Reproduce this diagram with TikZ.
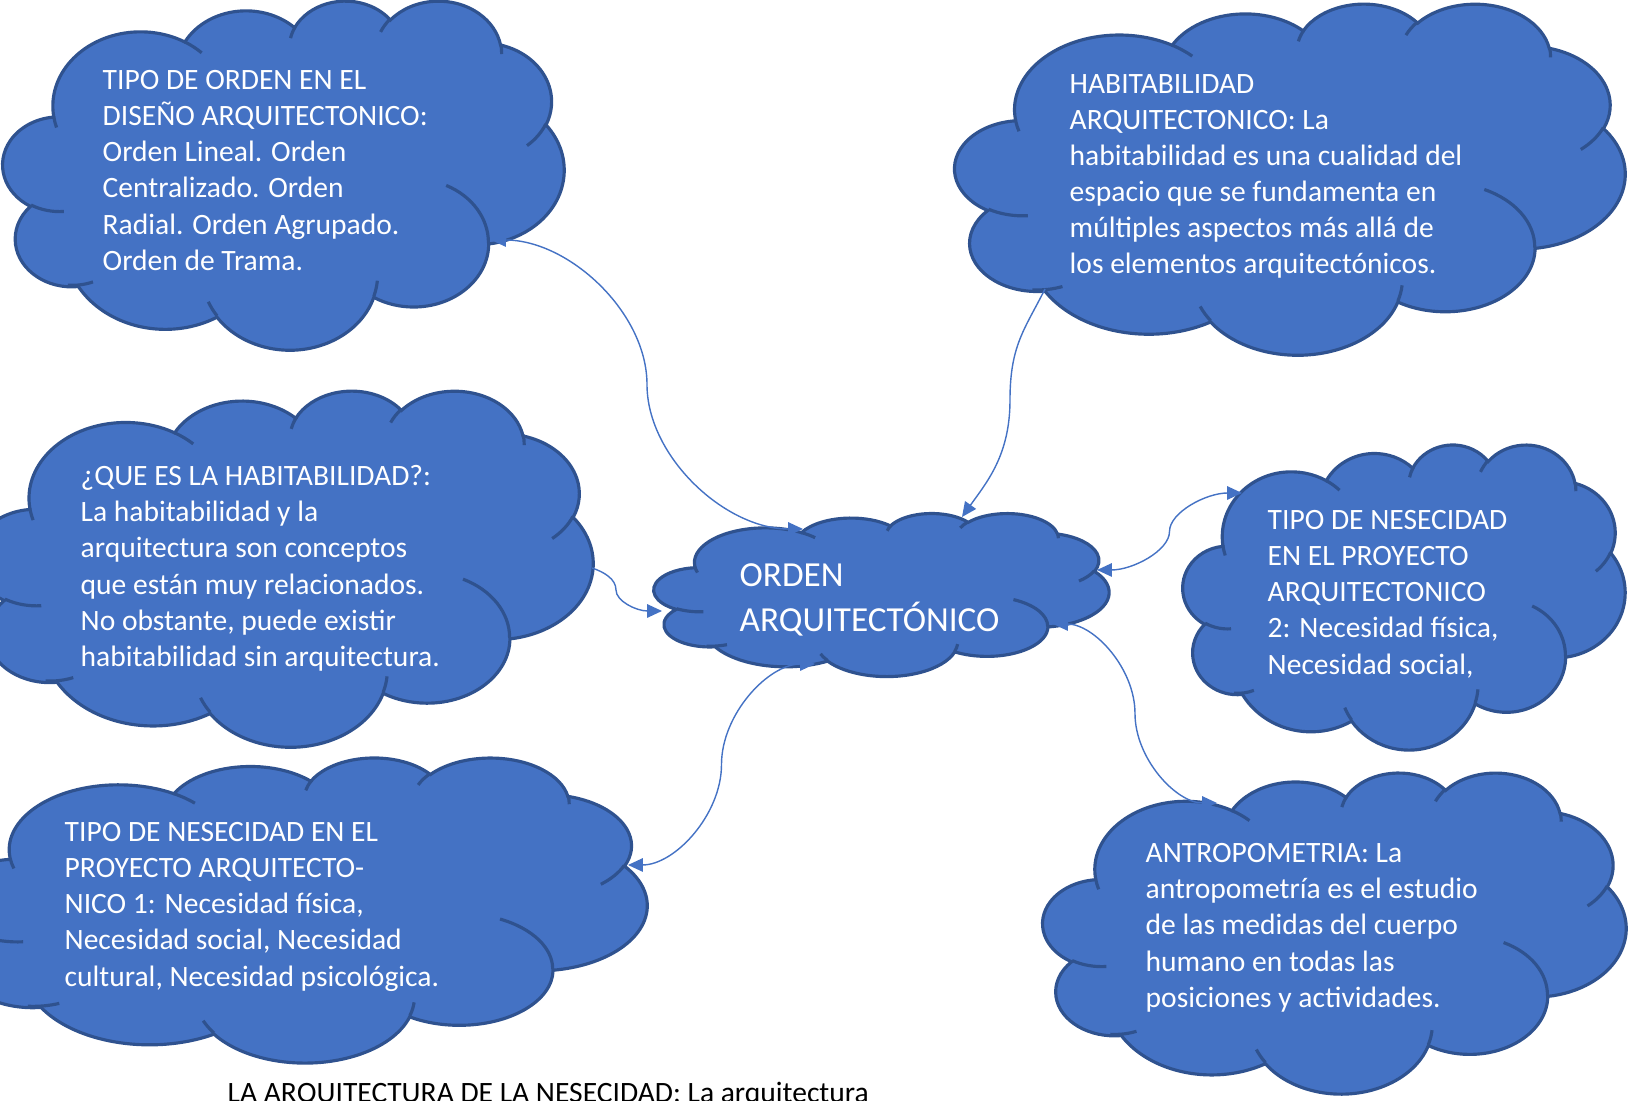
\documentclass[tikz,border=0pt]{standalone}
\usepackage{fontspec}
\setmainfont{Carlito}
\usepackage{xcolor}
\usepackage{tikz}
\usetikzlibrary{
  arrows.meta,
  calc
}
\definecolor{nubefill}{HTML}{4472C4}
\definecolor{nubeborde}{HTML}{2F528F}
\newcommand{\carc}[4]{arc[x radius=#1, y radius=#2,
  start angle={atan2(#1*sin(#3),#2*cos(#3))},
  delta angle={mod(atan2(#1*sin(#3+#4),#2*cos(#3+#4))-atan2(#1*sin(#3),#2*cos(#3))+720,360)}]}
\newcommand{\nube}[4]{%
  \begin{scope}[shift={(#1,#2)}, xscale=#3/43.2, yscale=#4/43.2]
    \path[nube] (3.9,14.37) \carc{6.753}{9.19}{-190.4875}{123.7805}
      \carc{5.333}{7.267}{-144.1024}{89.9452}
      \carc{4.365}{5.945}{-145.8079}{99.723}
      \carc{4.857}{6.595}{-130.9861}{117.2417}
      \carc{5.333}{7.273}{-78.7089}{109.0269}
      \carc{6.775}{9.22}{-46.2673}{130.269}
      \carc{5.785}{7.867}{0.625}{114.0333}
      \carc{6.752}{9.215}{22.4516}{115.1726}
      \carc{7.72}{10.543}{66.2426}{75.711}
      \carc{4.36}{5.918}{-274.9421}{146.7356}
      \carc{4.345}{5.945}{-246.8285}{152.5189} -- cycle;
    \path[pliegue] (4.693,26.177) \carc{4.345}{5.945}{86.742}{26.4295}
      (6.928,34.899) \carc{4.36}{5.918}{73.6077}{19.5035}
      (16.478,39.09) \carc{6.752}{9.215}{137.6242}{14.0811}
      (28.827,34.751) \carc{6.752}{9.215}{6.4533}{15.9984}
      (34.129,22.954) \carc{5.785}{7.867}{-70.2924}{70.9174}
      (41.798,15.354) \carc{5.333}{7.273}{30.318}{27.7515}
      (38.324,5.426) \carc{4.857}{6.595}{-13.7443}{14.8589}
      (29.078,3.952) \carc{4.857}{6.595}{-149.1815}{18.1954}
      (22.141,4.72) \carc{4.365}{5.945}{-163.4943}{17.6864}
      (14.0,5.192) \carc{6.753}{9.19}{-66.707}{12.3194}
      (4.127,15.789) \carc{6.753}{9.19}{157.6544}{11.8582};
  \end{scope}}
\tikzset{
  nube/.style={fill=nubefill, draw=nubeborde, line width=0.9pt},
  pliegue/.style={draw=nubeborde, line width=0.9pt},
  texto/.style={
    text=white,
    align=left,
    anchor=north west,
    inner sep=0pt,
    font=\fontsize{8.4}{10.25}\selectfont,
    execute at begin node=\strut},
  enlace/.style={
    draw=nubefill,
    line width=0.4pt,
    >={Triangle[length=4.2pt,width=3.8pt]}}
  }

\begin{document}
\begin{tikzpicture}[x=0.01cm, y=-0.01cm]
  \useasboundingbox (0,0) rectangle (1632,1101);
  % nubes
  \nube{3}{0}{561}{349}
  \nube{955}{3}{670}{351}
  \nube{-26}{390}{619}{356}
  \nube{-53}{757}{700}{305}
  \nube{654}{513}{455}{163}
  \nube{1183}{444}{442}{305}
  \nube{1043}{772}{583}{321}

  \node[texto] (orden) at (102,70) {TIPO DE ORDEN EN EL\\DISEÑO ARQUITECTONICO:\\Orden Lineal. Orden\\Centralizado. Orden\\Radial. Orden Agrupado.\\Orden de Trama.};
  \node[texto] (habarq) at (1069,74) {HABITABILIDAD\\ARQUITECTONICO: La\\habitabilidad es una cualidad del\\espacio que se fundamenta en\\múltiples aspectos más allá de\\los elementos arquitectónicos.};
  \node[texto] (queesh) at (80,465) {¿QUE ES LA HABITABILIDAD?:\\La habitabilidad y la\\arquitectura son conceptos\\que están muy relacionados.\\No obstante, puede existir\\habitabilidad sin arquitectura.};
  \node[texto] (nec1) at (64,822) {TIPO DE NESECIDAD EN EL\\PROYECTO ARQUITECTO-\\NICO 1: Necesidad física,\\Necesidad social, Necesidad\\cultural, Necesidad psicológica.};
  \node[texto, font=\fontsize{10}{12.8}\selectfont] (centro) at (739,563) {ORDEN\\ARQUITECTÓNICO};
  \node[texto] (nec2) at (1267,510) {TIPO DE NESECIDAD\\EN EL PROYECTO\\ARQUITECTONICO\\2: Necesidad física,\\Necesidad social,};
  \node[texto] (antro) at (1145,843) {ANTROPOMETRIA: La\\antropometría es el estudio\\de las medidas del cuerpo\\humano en todas las\\posiciones y actividades.};
  \node[anchor=base west, inner sep=0pt, font=\fontsize{8.4}{10.25}\selectfont] (pie) at (227,1103) {LA ARQUITECTURA DE LA NESECIDAD: La arquitectura};

  % puntos de union
  \coordinate (o1) at (491,240);
  \coordinate (c1) at (803,529);
  \coordinate (h1) at (1045,289);
  \coordinate (h2) at (1010,400);
  \coordinate (c2) at (962,517);
  \coordinate (q1) at (592,568);
  \coordinate (q2) at (616,590);
  \coordinate (c3) at (662,611);
  \coordinate (c4) at (815,664);
  \coordinate (n1) at (628,865);
  \coordinate (c5) at (1097,570);
  \coordinate (n2) at (1242,493);
  \coordinate (c6) at (1053,624);
  \coordinate (a1) at (1217,803);

  \draw[enlace, <->] (o1) .. controls +(78,0) and +(0,-72) .. ($(o1)!.5!(c1)$) .. controls +(0,72) and +(-78,0) .. (c1);
  \draw[enlace, ->] (h1) .. controls +(-20,40) and +(0,-55) .. (h2) .. controls +(0,55) and +(25,-35) .. (c2);
  \draw[enlace, ->] (q1) .. controls +(12,4) and +(0,-11) .. (q2) .. controls +(0,11) and +(-26,0) .. (c3);
  \draw[enlace, <->] (c4) .. controls +(-47,0) and +(0,-50) .. ($(c4)!.5!(n1)$) .. controls +(0,50) and +(47,0) .. (n1);
  \draw[enlace, <->] (c5) .. controls +(36,0) and +(0,19) .. ($(c5)!.5!(n2)$) .. controls +(0,-19) and +(-36,0) .. (n2);
  \draw[enlace, <->] (c6) .. controls +(41,0) and +(0,-45) .. ($(c6)!.5!(a1)$) .. controls +(0,45) and +(-41,0) .. (a1);
\end{tikzpicture}
\end{document}
